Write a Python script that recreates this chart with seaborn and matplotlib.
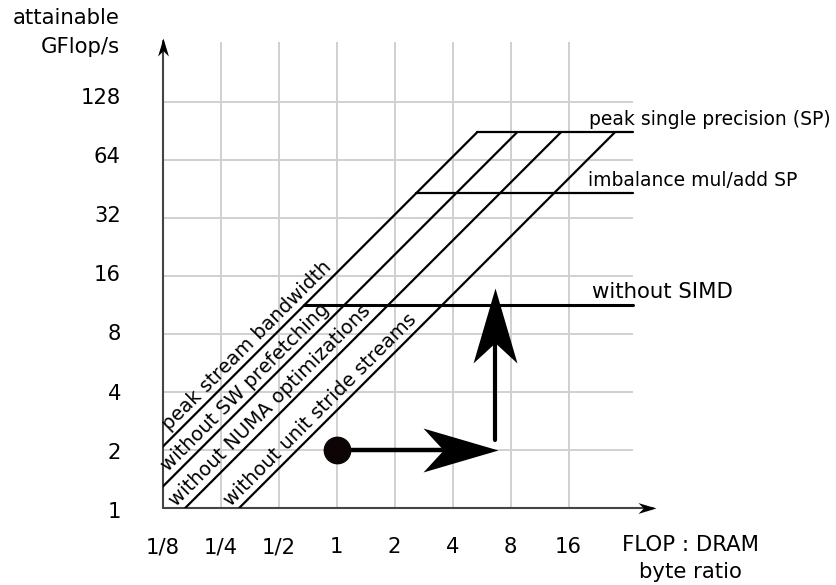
import numpy as np
import pandas as pd
import matplotlib
matplotlib.use('Agg')
import matplotlib.pyplot as plt
import matplotlib.transforms as mtransforms
import seaborn as sns
from matplotlib.path import Path

# Dados
x_ticks = [1/8, 1/4, 1/2, 1, 2, 4, 8, 16]
x_labels = ['1/8', '1/4', '1/2', '1', '2', '4', '8', '16']
y_ticks = [1, 2, 4, 8, 16, 32, 64, 128]
y_labels = ['1', '2', '4', '8', '16', '32', '64', '128']

bw_names = ['peak stream bandwidth', 'without SW prefetching',
            'without NUMA optimizations', 'without unit stride streams']
bw_values = [16.6, 10.3, 6.1, 3.2]
bw_label_x = [0.142, 0.14, 0.155, 0.297]

ceil_names = ['peak single precision (SP)', 'imbalance mul/add SP', 'without SIMD']
ceil_values = [89, 43, 11.3]
ceil_label_x = [20.4, 20.3, 21.2]

point_x = 1
point_y = 2
arrow_h_tip = 6.89
arrow_v_x = 6.65
arrow_v_from = 2.25
arrow_v_tip = 13.8

x_end = 34.5
grid_top = 261

sns.set_theme(style='white')
plt.rcParams['font.family'] = ['DejaVu Sans']
plt.rcParams['text.color'] = 'black'
plt.rcParams['xtick.color'] = 'black'
plt.rcParams['ytick.color'] = 'black'


def head(angle, notch=0.73, half=0.293):
    v = np.array([[0, 0], [-1, half], [-notch, 0], [-1, -half], [0, 0]])
    a = np.deg2rad(angle)
    r = np.array([[np.cos(a), -np.sin(a)], [np.sin(a), np.cos(a)]])
    v = v @ r.T
    return Path(v, [Path.MOVETO, Path.LINETO, Path.LINETO, Path.LINETO, Path.CLOSEPOLY])


fig = plt.figure(figsize=(8.36, 5.85), dpi=100)
ax = fig.add_axes([162.5 / 836, 77 / 585, 58 * 8.5 / 836, 58 * 8.1 / 585])
ax.set_xscale('log', base=2)
ax.set_yscale('log', base=2)
ax.set_xlim(1/8, 2 ** 5.5)
ax.set_ylim(1, 2 ** 8.1)
for s in ax.spines.values():
    s.set_visible(False)

# grade
ax.hlines(y_ticks[1:], 1/8, x_end, color='#d0d0d0', lw=1.4, zorder=1)
ax.vlines(x_ticks[1:], 1, grid_top, color='#d0d0d0', lw=1.4, zorder=1)

# eixos com setas
ax.plot([0, 0], [0, 0.995], transform=ax.transAxes, color='#444444', lw=1.5, clip_on=False, zorder=3)
ax.plot([0, 0.995], [0, 0], transform=ax.transAxes, color='#444444', lw=1.5, clip_on=False, zorder=3)
ax.plot([0], [1], transform=ax.transAxes, marker=head(90, 0.7, 0.3), ms=26, color='black',
        mew=0, clip_on=False, zorder=4)
ax.plot([1], [0], transform=ax.transAxes, marker=head(0, 0.7, 0.3), ms=26, color='black',
        mew=0, clip_on=False, zorder=4)

peak = ceil_values[0]
bw_peak = bw_values[0]

# telhados diagonais
for name, bw, lx in zip(bw_names, bw_values, bw_label_x):
    x0 = max(1/8, 1 / bw)
    x1 = peak / bw
    sns.lineplot(x=[x0, x1], y=[bw * x0, bw * x1], color='black', lw=1.6, ax=ax, zorder=5)
    ax.annotate(name, (lx, bw * lx), xytext=(-3, 4), textcoords='offset points',
                rotation=45, rotation_mode='anchor', ha='left', va='baseline',
                fontsize=14, annotation_clip=False)

# tetos horizontais
for i, (name, c, lx) in enumerate(zip(ceil_names, ceil_values, ceil_label_x)):
    sns.lineplot(x=[c / bw_peak, x_end], y=[c, c], color='black',
                 lw=2.2 if i == 2 else 1.6, ax=ax, zorder=5)
    ax.annotate(name, (lx, c), xytext=(0, 5), textcoords='offset points',
                ha='left', va='baseline', fontsize=15.3 if i == 2 else 13.5,
                annotation_clip=False)

# setas de otimizacao
ax.plot([point_x, arrow_h_tip / 2 ** 0.75], [point_y, point_y], color='black', lw=3.2, zorder=6)
ax.plot([arrow_h_tip], [point_y], marker=head(0), ms=108, color='black', mew=0, zorder=7)
ax.plot([arrow_v_x, arrow_v_x], [arrow_v_from, arrow_v_tip / 2 ** 0.75], color='black', lw=3, zorder=6)
ax.plot([arrow_v_x], [arrow_v_tip], marker=head(90), ms=108, color='black', mew=0, zorder=7)
ax.plot([point_x], [point_y], marker='o', ms=19, color='#0d0505', zorder=8)

ax.set_xticks(x_ticks)
ax.set_xticklabels(x_labels, fontsize=15.2)
ax.set_yticks(y_ticks)
ax.set_yticklabels(y_labels, fontsize=15.2)
ax.minorticks_off()
ax.tick_params(axis='x', length=0, pad=21)
ax.tick_params(axis='y', length=0, pad=30)
ax.grid(False)

# rotulos do eixo y um pouco mais espacados que a grade
for v, lab in zip(y_ticks, ax.get_yticklabels()):
    dy = (2 - 1.2 * np.log2(v)) * 0.72
    lab.set_transform(lab.get_transform() +
                      mtransforms.ScaledTranslation(0, -dy / 72, fig.dpi_scale_trans))

fig.text(120 / 836, 1 - 8 / 585, 'attainable\nGFlop/s', ha='right', va='top',
         multialignment='right', fontsize=15.3, linespacing=1.55)
fig.text(690 / 836, 1 - 535 / 585, 'FLOP : DRAM\nbyte ratio', ha='center', va='top',
         multialignment='center', fontsize=15.3, linespacing=1.45)

fig.savefig('out.png', dpi=100)
